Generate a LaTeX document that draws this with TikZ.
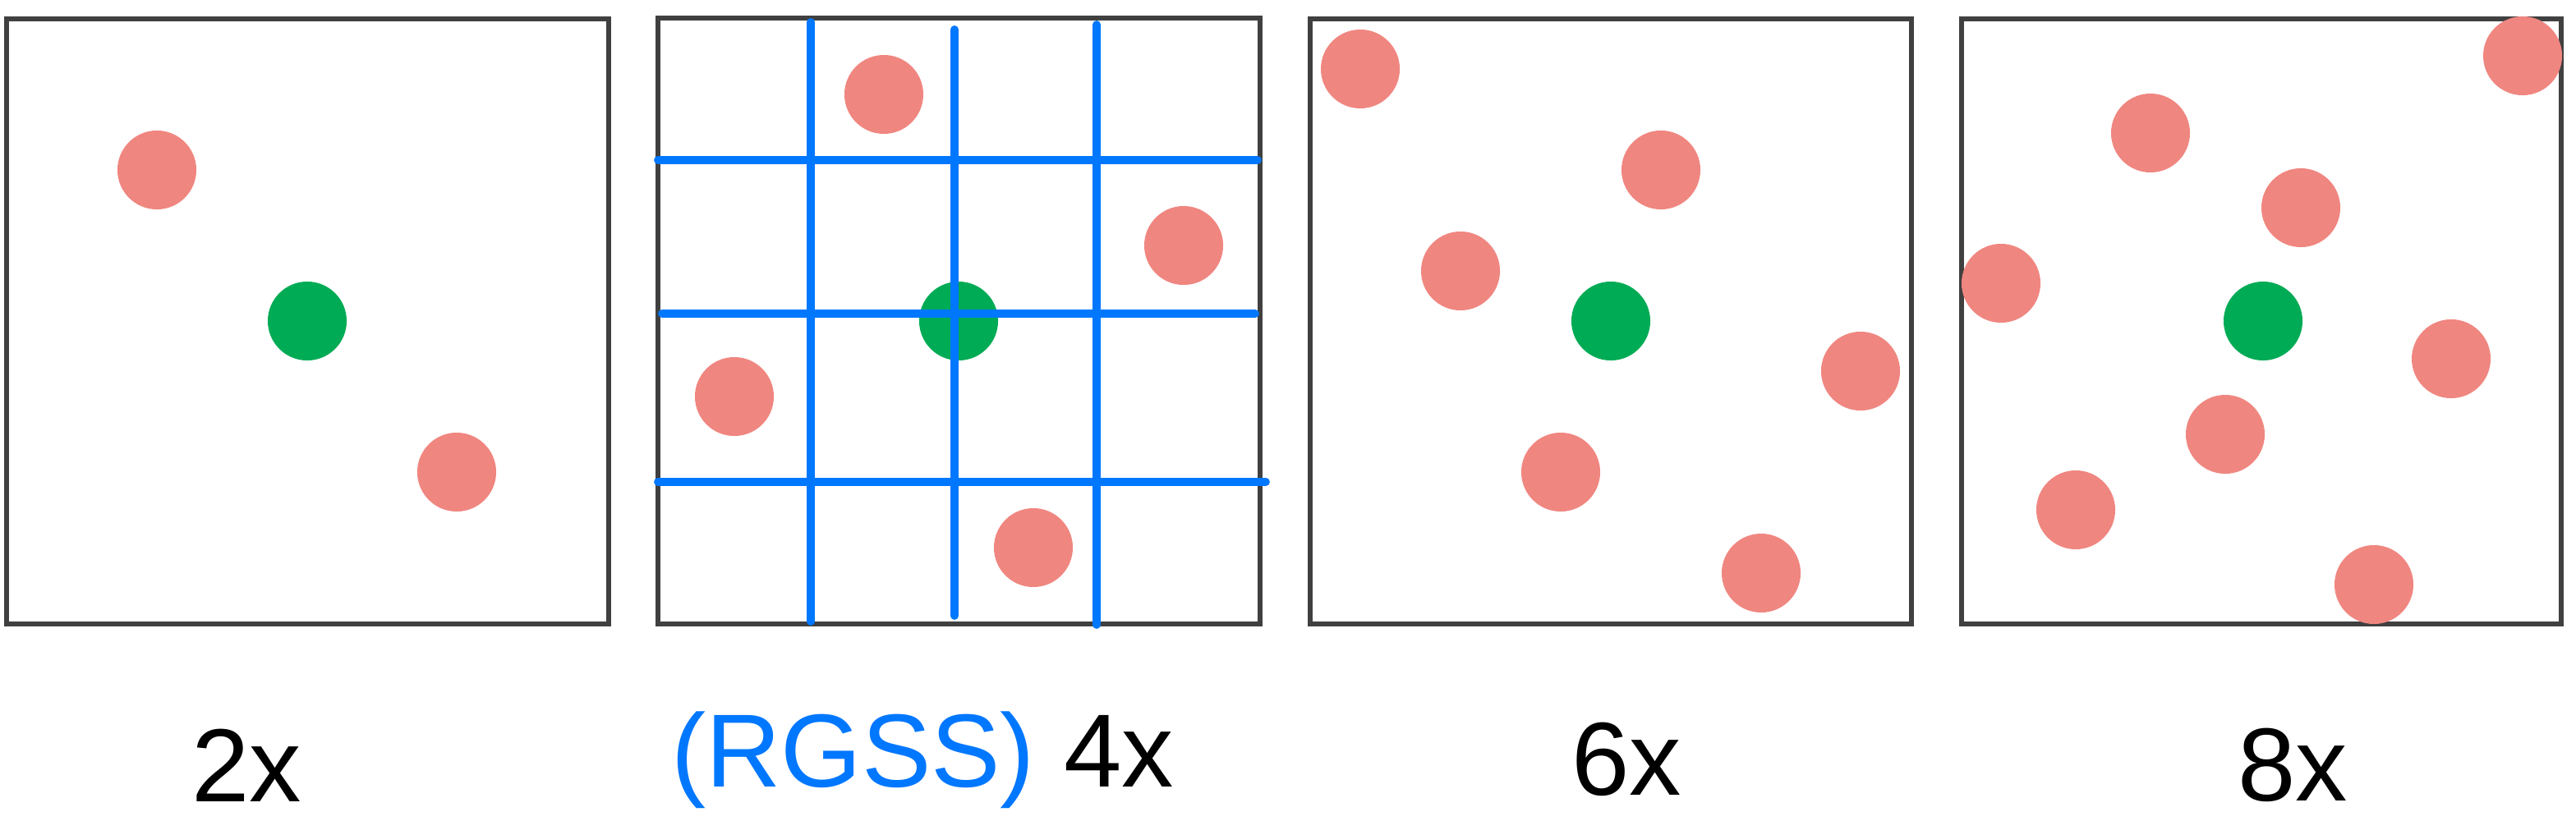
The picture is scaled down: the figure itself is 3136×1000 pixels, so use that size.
\documentclass[tikz,border=0pt]{standalone}
\usepackage{fontspec}
\setmainfont{Liberation Sans}
\definecolor{boxgray}{HTML}{404040}
\definecolor{sampred}{HTML}{F08680}
\definecolor{pixgreen}{HTML}{00AB55}
\definecolor{gridblue}{HTML}{0077FF}
\begin{document}
\begin{tikzpicture}[x=0.01cm,y=-0.01cm,
  panel/.style={draw=boxgray,line width=1.5pt},
  sample/.style={circle,fill=sampred,minimum size=0.96cm,inner sep=0pt},
  pixel/.style={circle,fill=pixgreen,minimum size=0.96cm,inner sep=0pt},
  gridline/.style={draw=gridblue,line width=2.8pt,line cap=round},
  lbl/.style={font=\fontsize{36}{40}\selectfont,inner sep=0pt,anchor=center}]
\useasboundingbox (0,0) rectangle (3136,1000);
% panel frames
\draw[panel] (8,23) rectangle (741,760);
\draw[panel] (801,22) rectangle (1534,760);
\draw[panel] (1595,23) rectangle (2327,760);
\draw[panel] (2388,23) rectangle (3118,760);
% panel 1: 2x
\node[sample] (a1) at (191,207) {};
\node[pixel]  (ac) at (374,391) {};
\node[sample] (a2) at (556,575) {};
% panel 2: RGSS 4x
\node[sample] (b1) at (1076,115) {};
\node[sample] (b2) at (1441,299) {};
\node[pixel]  (bc) at (1167,391) {};
\node[sample] (b3) at (894,483) {};
\node[sample] (b4) at (1258,667) {};
\draw[gridline] (987,27) -- (987,757);
\draw[gridline] (1162,36) -- (1162,750);
\draw[gridline] (1335,30) -- (1335,761);
\draw[gridline] (801,195) -- (1531,195);
\draw[gridline] (806,382) -- (1528,382);
\draw[gridline] (801,587) -- (1541,587);
% panel 3: 6x
\node[sample] (c1) at (1656,84) {};
\node[sample] (c2) at (2022,207) {};
\node[sample] (c3) at (1778,330) {};
\node[pixel]  (cc) at (1961,391) {};
\node[sample] (c4) at (2265,452) {};
\node[sample] (c5) at (1900,575) {};
\node[sample] (c6) at (2144,698) {};
% panel 4: 8x
\node[sample] (d1) at (3071,68) {};
\node[sample] (d2) at (2618,162) {};
\node[sample] (d3) at (2801,253) {};
\node[sample] (d4) at (2436,345) {};
\node[pixel]  (dc) at (2755,391) {};
\node[sample] (d5) at (2984,437) {};
\node[sample] (d6) at (2709,529) {};
\node[sample] (d7) at (2527,621) {};
\node[sample] (d8) at (2890,712) {};
% labels
\node[lbl] (l1) at (300,932) {2x};
\node[lbl] (l2) at (1123,926) {{\color{gridblue}(RGSS)} 4x};
\node[lbl] (l3) at (1980,925) {6x};
\node[lbl] (l4) at (2791,932) {8x};
\end{tikzpicture}
\end{document}
